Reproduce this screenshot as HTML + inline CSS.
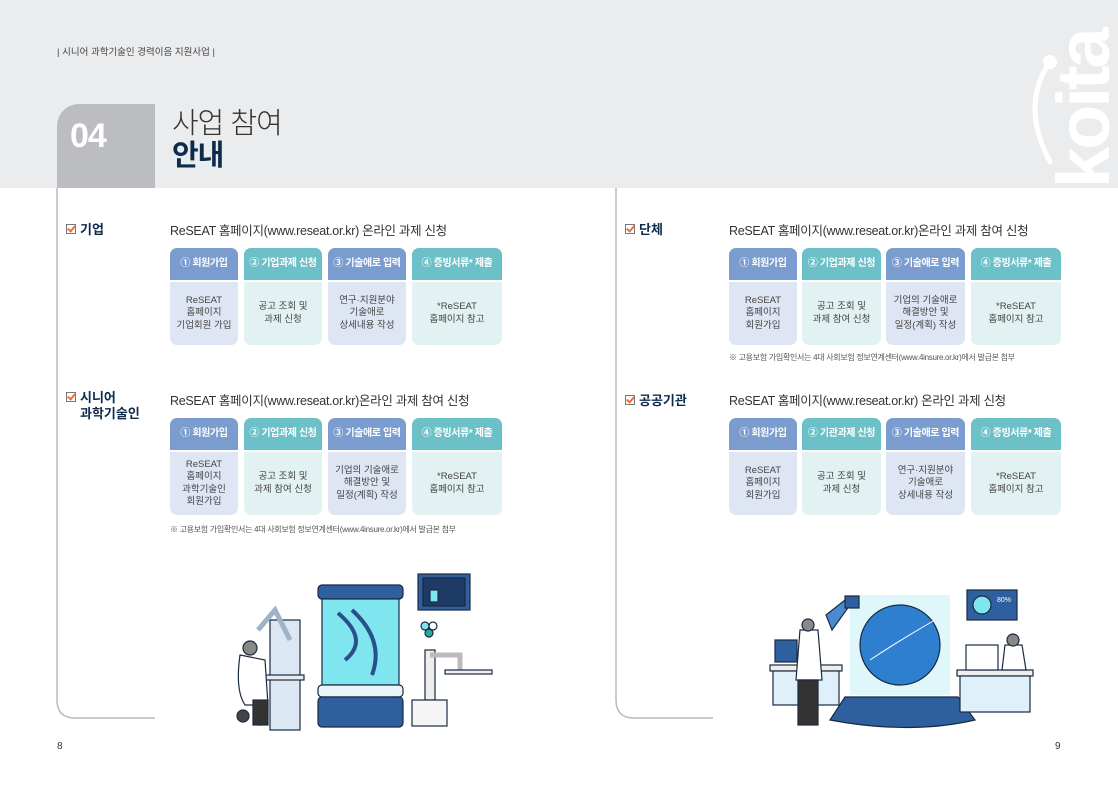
<!DOCTYPE html>
<html><head><meta charset="utf-8"><style>
*{margin:0;padding:0;box-sizing:border-box}
body{width:1118px;height:793px;position:relative;background:#fff;font-family:"Liberation Sans","Noto Sans CJK KR",sans-serif;color:#333;overflow:hidden}
.a{position:absolute}
.hdr{left:0;top:0;width:1118px;height:188px;background:#ebecee}
.lbl{font-size:13px;font-weight:bold;color:#0c2b4d}
.lbl .ck{display:inline-block;width:10px;height:10px;border:1.5px solid #777;margin-right:4px;position:relative;top:0px}
.lbl .ck:after{content:"";position:absolute;left:2px;top:-1px;width:3px;height:6px;border:solid #e8703a;border-width:0 2px 2px 0;transform:rotate(40deg)}
.ln{font-size:12.5px;color:#333;letter-spacing:-0.3px}
.c{position:absolute;border-radius:7px;overflow:hidden;text-align:center}
.c .h{height:32px;line-height:32px;color:#fff;font-size:10px;font-weight:bold;letter-spacing:-0.4px}
.c .b{height:65px;display:flex;align-items:center;justify-content:center;font-size:9.5px;line-height:12.5px;color:#444;border-top:2px solid #fff}
.bl .h{background:#7b9ccf}.bl .b{background:#dfe6f3}
.tl .h{background:#6cc0c8}.tl .b{background:#e2f1f2}
.note{font-size:8px;color:#555;letter-spacing:-0.3px}
</style></head><body>
<div class="a hdr"></div>
<div class="a" style="left:57px;top:44px;font-size:9.5px;color:#444">| 시니어 과학기술인 경력이음 지원사업 |</div>
<div class="a" style="left:57px;top:104px;width:98px;height:84px;background:#bcbdc0;border-top-left-radius:22px"></div>
<div class="a" style="left:70px;top:117px;font-size:34px;font-weight:bold;color:#fff;letter-spacing:-1px">04</div>
<div class="a" style="left:172px;top:100px;font-size:29px;color:#333;font-weight:300;letter-spacing:-1px">사업 참여</div>
<div class="a" style="left:172px;top:132px;font-size:29px;color:#0c2b4d;font-weight:bold;letter-spacing:-1px">안내</div>
<div class="a" style="left:1042px;top:20px;width:76px;height:168px;overflow:hidden">
<div style="position:absolute;left:12px;top:168px;transform:rotate(-90deg);transform-origin:0 0;font-size:74px;font-weight:bold;color:#fff;letter-spacing:-3px;line-height:60px;white-space:nowrap">koita</div></div>
<svg class="a" style="left:1020px;top:50px" width="40" height="120"><path d="M30 12 Q0 55 30 112" stroke="#fff" stroke-width="5" fill="none" stroke-linecap="round"/><circle cx="30" cy="12" r="7" fill="#fff"/></svg>
<svg class="a" style="left:0;top:188px" width="1118" height="540">
<path d="M57 0 V512 Q57 530 75 530 H155" stroke="#bbb" stroke-width="1.5" fill="none"/>
<path d="M616 0 V512 Q616 530 634 530 H713" stroke="#bbb" stroke-width="1.5" fill="none"/>
</svg>
<!-- left -->
<div class="a lbl" style="left:66px;top:219px"><span class="ck"></span>기업</div>
<div class="a ln" style="left:170px;top:220px">ReSEAT 홈페이지(www.reseat.or.kr) 온라인 과제 신청</div>
<div class="c bl" style="left:170px;top:248px;width:68px"><div class="h">① 회원가입</div><div class="b">ReSEAT<br>홈페이지<br>기업회원 가입</div></div>
<div class="c tl" style="left:244px;top:248px;width:78px"><div class="h">② 기업과제 신청</div><div class="b">공고 조회 및<br>과제 신청</div></div>
<div class="c bl" style="left:328px;top:248px;width:78px"><div class="h">③ 기술애로 입력</div><div class="b">연구·지원분야<br>기술애로<br>상세내용 작성</div></div>
<div class="c tl" style="left:412px;top:248px;width:90px"><div class="h">④ 증빙서류* 제출</div><div class="b">*ReSEAT<br>홈페이지 참고</div></div>

<div class="a lbl" style="left:66px;top:390px;line-height:16px"><span class="ck"></span>시니어<br><span style="padding-left:14px">과학기술인</span></div>
<div class="a ln" style="left:170px;top:390px">ReSEAT 홈페이지(www.reseat.or.kr)온라인 과제 참여 신청</div>
<div class="c bl" style="left:170px;top:418px;width:68px"><div class="h">① 회원가입</div><div class="b">ReSEAT<br>홈페이지<br>과학기술인<br>회원가입</div></div>
<div class="c tl" style="left:244px;top:418px;width:78px"><div class="h">② 기업과제 신청</div><div class="b">공고 조회 및<br>과제 참여 신청</div></div>
<div class="c bl" style="left:328px;top:418px;width:78px"><div class="h">③ 기술애로 입력</div><div class="b">기업의 기술애로<br>해결방안 및<br>일정(계획) 작성</div></div>
<div class="c tl" style="left:412px;top:418px;width:90px"><div class="h">④ 증빙서류* 제출</div><div class="b">*ReSEAT<br>홈페이지 참고</div></div>
<div class="a note" style="left:170px;top:524px">※ 고용보험 가입확인서는 4대 사회보험 정보연계센터(www.4insure.or.kr)에서 발급본 첨부</div>
<!-- right -->
<div class="a lbl" style="left:625px;top:219px"><span class="ck"></span>단체</div>
<div class="a ln" style="left:729px;top:220px">ReSEAT 홈페이지(www.reseat.or.kr)온라인 과제 참여 신청</div>
<div class="c bl" style="left:729px;top:248px;width:68px"><div class="h">① 회원가입</div><div class="b">ReSEAT<br>홈페이지<br>회원가입</div></div>
<div class="c tl" style="left:802px;top:248px;width:79px"><div class="h">② 기업과제 신청</div><div class="b">공고 조회 및<br>과제 참여 신청</div></div>
<div class="c bl" style="left:886px;top:248px;width:79px"><div class="h">③ 기술애로 입력</div><div class="b">기업의 기술애로<br>해결방안 및<br>일정(계획) 작성</div></div>
<div class="c tl" style="left:971px;top:248px;width:90px"><div class="h">④ 증빙서류* 제출</div><div class="b">*ReSEAT<br>홈페이지 참고</div></div>
<div class="a note" style="left:729px;top:352px">※ 고용보험 가입확인서는 4대 사회보험 정보연계센터(www.4insure.or.kr)에서 발급본 첨부</div>

<div class="a lbl" style="left:625px;top:390px"><span class="ck"></span>공공기관</div>
<div class="a ln" style="left:729px;top:390px">ReSEAT 홈페이지(www.reseat.or.kr) 온라인 과제 신청</div>
<div class="c bl" style="left:729px;top:418px;width:68px"><div class="h">① 회원가입</div><div class="b">ReSEAT<br>홈페이지<br>회원가입</div></div>
<div class="c tl" style="left:802px;top:418px;width:79px"><div class="h">② 기관과제 신청</div><div class="b">공고 조회 및<br>과제 신청</div></div>
<div class="c bl" style="left:886px;top:418px;width:79px"><div class="h">③ 기술애로 입력</div><div class="b">연구·지원분야<br>기술애로<br>상세내용 작성</div></div>
<div class="c tl" style="left:971px;top:418px;width:90px"><div class="h">④ 증빙서류* 제출</div><div class="b">*ReSEAT<br>홈페이지 참고</div></div>

<svg class="a" style="left:0;top:0" width="1118" height="793">
<g stroke="#1a2a40" stroke-width="1.2">
<rect x="318" y="585" width="85" height="14" rx="4" fill="#2e5f9e"/>
<rect x="322" y="599" width="77" height="86" fill="#7fe6f0"/>
<rect x="318" y="685" width="85" height="12" rx="4" fill="#e8f6f8"/>
<rect x="318" y="697" width="85" height="30" rx="4" fill="#2e5f9e"/>
<path d="M338 613 Q370 640 345 660 M352 610 Q385 640 372 675" stroke="#2a4f8a" stroke-width="4" fill="none"/>
<rect x="418" y="574" width="52" height="36" fill="#2e5f9e"/>
<rect x="423" y="578" width="42" height="28" fill="#1d3b66"/>
<rect x="430" y="590" width="8" height="12" fill="#7fe6f0"/>
<rect x="270" y="620" width="30" height="110" fill="#dbe8f4"/>
<path d="M258 630 L275 610 L290 640" stroke="#9fb3c6" stroke-width="5" fill="none"/>
<rect x="254" y="675" width="50" height="5" fill="#eaeaea"/>
<rect x="258" y="680" width="4" height="45" fill="#eee"/>
<path d="M240 655 Q235 690 245 705 L268 705 L265 660 Z" fill="#fff"/>
<circle cx="250" cy="648" r="7" fill="#888"/>
<rect x="253" y="700" width="15" height="25" fill="#333"/>
<circle cx="243" cy="716" r="6" fill="#444"/>
<rect x="425" y="650" width="10" height="50" fill="#eee"/>
<path d="M430 655 L460 655 L460 670" stroke="#bbb" stroke-width="5" fill="none"/>
<rect x="445" y="670" width="47" height="4" fill="#eee"/>
<rect x="412" y="700" width="35" height="26" fill="#f5f5f5"/>
<circle cx="425" cy="626" r="4" fill="#7fe6f0"/><circle cx="433" cy="626" r="4" fill="#fff"/><circle cx="429" cy="633" r="4" fill="#2aa9a0"/>
</g>
<g stroke="#1a2a40" stroke-width="1.2">
<rect x="850" y="595" width="100" height="100" fill="#dff6fb" stroke="none"/>
<circle cx="900" cy="645" r="40" fill="#2e7fd0"/>
<path d="M870 660 Q900 640 935 620" stroke="#fff" stroke-width="1" fill="none"/>
<path d="M845 697 H958 L975 720 Q910 735 830 720 Z" fill="#2e5f9e"/>
<rect x="770" y="665" width="72" height="6" fill="#eee"/>
<rect x="773" y="671" width="66" height="34" fill="#dff0fa"/>
<rect x="775" y="640" width="22" height="22" fill="#2e5f9e"/>
<rect x="957" y="670" width="76" height="6" fill="#eee"/>
<rect x="960" y="676" width="70" height="36" fill="#dff0fa"/>
<rect x="966" y="645" width="32" height="25" fill="#fff"/>
<rect x="967" y="590" width="50" height="30" fill="#2e5f9e"/>
<circle cx="982" cy="605" r="9" fill="#7fe6f0"/>
<text x="997" y="602" font-size="7" fill="#fff" stroke="none" font-family="Liberation Sans">80%</text>
<path d="M826 615 L845 600 L850 605 L832 630 Z" fill="#4a8ad0"/>
<rect x="845" y="596" width="14" height="12" fill="#2e5f9e"/>
<path d="M800 630 L818 630 L822 680 L796 680 Z" fill="#fff"/>
<rect x="798" y="680" width="20" height="45" fill="#333"/>
<circle cx="808" cy="625" r="6" fill="#888"/>
<path d="M1005 645 L1022 645 L1026 670 L1002 670 Z" fill="#fff"/>
<circle cx="1013" cy="640" r="6" fill="#888"/>
</g>
</svg>
<div class="a" style="left:57px;top:741px;font-size:10px;color:#333">8</div>
<div class="a" style="left:1055px;top:741px;font-size:10px;color:#333">9</div>
</body></html>
